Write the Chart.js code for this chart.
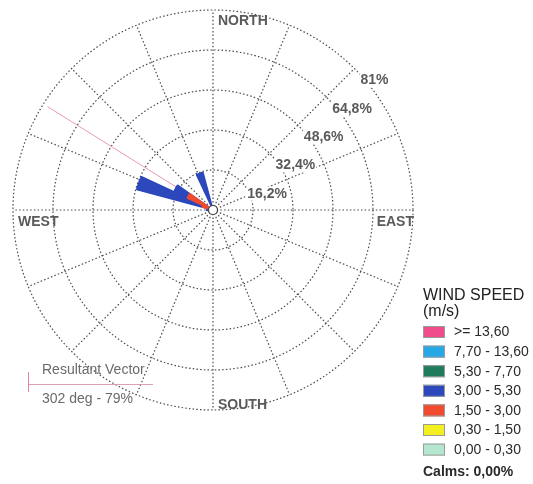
<!DOCTYPE html>
<html>
<head>
<meta charset="utf-8">
<script src="https://cdn.jsdelivr.net/npm/chart.js@4/dist/chart.umd.min.js"></script>
<style>
  html, body { margin: 0; padding: 0; background: #ffffff; }
  #wrap { position: relative; width: 533px; height: 484px; }
</style>
</head>
<body>
<div id="wrap"><canvas id="rose" width="533" height="484"></canvas></div>
<script>
// Wind direction bins (degrees clockwise from north, 10° sectors)
const directions = [0, 10, 20, 30, 40, 50, 60, 70, 80, 90, 100, 110, 120, 130, 140, 150, 160, 170,
                    180, 190, 200, 210, 220, 230, 240, 250, 260, 270, 280, 290, 300, 310, 320, 330, 340, 350];

// Compass points used for the grid spokes
const compassPoints = ['N', 'NNE', 'NE', 'ENE', 'E', 'ESE', 'SE', 'SSE',
                       'S', 'SSW', 'SW', 'WSW', 'W', 'WNW', 'NW', 'NNW'];
const cardinalNames = ['NORTH', 'EAST', 'SOUTH', 'WEST'];

// Frequency ring ticks (%)
const ringMax = 81;
const ringStep = 16.2;

// Speed classes (m/s), slowest first
const speedClasses = ['0,00 - 0,30', '0,30 - 1,50', '1,50 - 3,00', '3,00 - 5,30',
                      '5,30 - 7,70', '7,70 - 13,60', '>= 13,60'];
const classColors = ['#b4e6d0', '#f4f020', '#f24a2e', '#2c48bc', '#1e7c5c', '#26a8e6', '#ee4c8a'];

// Frequency (%) per direction bin for each speed class
const freq00_03 = [0,0,0,0,0,0,0,0,0,0,0,0,0,0,0,0,0,0, 0,0,0,0,0,0,0,0,0,0,0,0,0,0,0,0,0,0];
const freq03_15 = [0,0,0,0,0,0,0,0,0,0,0,0,0,0,0,0,0,0, 0,0,0,0,0,0,0,0,0,0.4,0.3,0.5,0.5,0,0,0,0.3,0];
const freq15_30 = [0,0,0,0,0,0,0,0,0,0,0,0,0,0,0,0,0,0, 0,0,0,0,0,0,0,0,0,1.2,1.0,4.0,11.0,0.6,0,0,0.7,0];
const freq30_53 = [0,0,0,0,0,0,0,0,0,0,0,0,0,0,0,0,0,0, 0,0,0,0,0,0,0,0,0,1.0,0.5,27.5,6.0,0.4,0,0,14.8,0];
const freq53_77 = [0,0,0,0,0,0,0,0,0,0,0,0,0,0,0,0,0,0, 0,0,0,0,0,0,0,0,0,0,0,0,0,0,0,0,0,0];
const freq77_136 = [0,0,0,0,0,0,0,0,0,0,0,0,0,0,0,0,0,0, 0,0,0,0,0,0,0,0,0,0,0,0,0,0,0,0,0,0];
const freq136up = [0,0,0,0,0,0,0,0,0,0,0,0,0,0,0,0,0,0, 0,0,0,0,0,0,0,0,0,0,0,0,0,0,0,0,0,0];

// Resultant vector and calms
const resultantDeg = 302;
const resultantPct = 79;
const calmsPct = '0,00%';

const classSeries = [freq00_03, freq03_15, freq15_30, freq30_53, freq53_77, freq77_136, freq136up];

// Petals are stacked: each dataset holds the running total up to its class,
// so the slower classes are painted over the faster ones from the centre out.
const datasets = classSeries.map((series, k) => {
  const cumulative = directions.map((_, i) =>
    classSeries.slice(0, k + 1).reduce((s, arr) => s + arr[i], 0));
  return {
    label: speedClasses[k],
    data: cumulative,
    backgroundColor: classColors[k],
    borderColor: classColors[k],
    borderWidth: (c) => (series[c.dataIndex] > 0 ? 1.5 : 0)
  };
});

const fmtPct = (v) => {
  const r = Math.round(v * 10) / 10;
  return String(r).replace('.', ',') + '%';
};

// Centre each petal on its direction and keep it one bin wide
const petalPlugin = {
  id: 'petals',
  beforeDatasetsDraw(chart) {
    const scale = chart.scales.r;
    const half = Math.PI / directions.length;
    const base = scale.getIndexAngle(0) - Math.PI / 2;
    chart.getSortedVisibleDatasetMetas().forEach((meta) => {
      meta.data.forEach((arc, i) => {
        const mid = base + directions[i] * Math.PI / 180;
        arc.startAngle = mid - half;
        arc.endAngle = mid + half;
      });
    });
    // resultant vector drawn beneath the petals
    const ctx = chart.ctx;
    const len = scale.getDistanceFromCenterForValue(resultantPct);
    const a = base + resultantDeg * Math.PI / 180;
    ctx.save();
    ctx.strokeStyle = 'rgba(226,130,160,0.8)';
    ctx.lineWidth = 1;
    ctx.beginPath();
    ctx.moveTo(scale.xCenter, scale.yCenter);
    ctx.lineTo(scale.xCenter + Math.cos(a) * len, scale.yCenter + Math.sin(a) * len);
    ctx.stroke();
    ctx.restore();
  }
};

// Ring labels, compass names, calm circle and the speed legend
const decorPlugin = {
  id: 'decor',
  afterDraw(chart) {
    const ctx = chart.ctx;
    const scale = chart.scales.r;
    const cx = scale.xCenter, cy = scale.yCenter;
    const R = scale.drawingArea;

    // calm circle
    ctx.save();
    ctx.beginPath();
    ctx.arc(cx, cy, 4.5, 0, Math.PI * 2);
    ctx.fillStyle = '#ffffff';
    ctx.fill();
    ctx.strokeStyle = '#444444';
    ctx.lineWidth = 1.2;
    ctx.stroke();

    // ring percentages along the NE spoke, on a white backdrop
    ctx.font = 'bold 14px "Liberation Sans", Arial, sans-serif';
    ctx.textAlign = 'left';
    ctx.textBaseline = 'middle';
    scale.ticks.forEach((t) => {
      if (t.value <= 0) return;
      const p = scale.getPointPosition(2, scale.getDistanceFromCenterForValue(t.value));
      const txt = fmtPct(t.value);
      const tw = ctx.measureText(txt).width;
      ctx.fillStyle = '#ffffff';
      ctx.fillRect(p.x + 5, p.y + 5, tw + 2, 14);
      ctx.fillStyle = '#5a5a5a';
      ctx.fillText(txt, p.x + 6, p.y + 12);
    });

    // compass names
    ctx.fillStyle = '#5a5a5a';
    const n = scale.getPointPosition(0, R);
    const e = scale.getPointPosition(4, R);
    const s = scale.getPointPosition(8, R);
    const w = scale.getPointPosition(12, R);
    ctx.fillText(cardinalNames[0], n.x + 5, n.y + 11);
    ctx.fillText(cardinalNames[2], s.x + 5, s.y - 5);
    ctx.fillText(cardinalNames[3], w.x + 5, w.y + 12);
    ctx.textAlign = 'right';
    ctx.fillText(cardinalNames[1], e.x + 1, e.y + 12);

    // resultant vector caption
    ctx.textAlign = 'left';
    ctx.fillStyle = '#6a6a6a';
    ctx.font = '14px "Liberation Sans", Arial, sans-serif';
    ctx.fillText('Resultant Vector', 42, 370);
    ctx.fillText(resultantDeg + ' deg - ' + resultantPct + '%', 42, 399);
    ctx.strokeStyle = 'rgba(215,150,170,0.9)';
    ctx.lineWidth = 1;
    ctx.beginPath();
    ctx.moveTo(28, 384.5);
    ctx.lineTo(153, 384.5);
    ctx.stroke();
    ctx.strokeStyle = 'rgba(232,120,160,0.9)';
    ctx.beginPath();
    ctx.moveTo(28.5, 372);
    ctx.lineTo(28.5, 392);
    ctx.stroke();

    // speed legend
    ctx.fillStyle = '#222222';
    ctx.font = '16px "Liberation Sans", Arial, sans-serif';
    ctx.fillText('WIND SPEED', 423, 296);
    ctx.fillText('(m/s)', 423, 312);
    ctx.font = '14px "Liberation Sans", Arial, sans-serif';
    const order = speedClasses.map((_, i) => speedClasses.length - 1 - i);
    order.forEach((k, row) => {
      const top = 326 + row * 19.6;
      ctx.fillStyle = classColors[k];
      ctx.fillRect(423, top, 22, 12);
      ctx.strokeStyle = '#9a9a9a';
      ctx.lineWidth = 1;
      ctx.strokeRect(423.5, top + 0.5, 21, 11);
      ctx.fillStyle = '#2a2a2a';
      ctx.fillText(speedClasses[k], 454, top + 6.5);
    });
    ctx.font = 'bold 14px "Liberation Sans", Arial, sans-serif';
    ctx.fillText('Calms: ' + calmsPct, 423, 472);
    ctx.restore();
  }
};

new Chart(document.getElementById('rose'), {
  type: 'polarArea',
  data: { labels: compassPoints, datasets },
  options: {
    responsive: false,
    animation: false,
    events: [],
    layout: { padding: { left: 13, right: 119, top: 9, bottom: 73 } },
    plugins: { legend: { display: false }, tooltip: { enabled: false } },
    scales: {
      r: {
        min: 0,
        max: ringMax,
        startAngle: 0,
        ticks: { display: false, stepSize: ringStep },
        pointLabels: { display: false },
        grid: { circular: true, color: '#4a4a4a', lineWidth: 1.2 },
        border: { dash: [1.5, 2.2] },
        angleLines: { display: true, color: '#4a4a4a', lineWidth: 1.2, borderDash: [1.5, 2.2] }
      }
    }
  },
  plugins: [petalPlugin, decorPlugin]
});
</script>
</body>
</html>
